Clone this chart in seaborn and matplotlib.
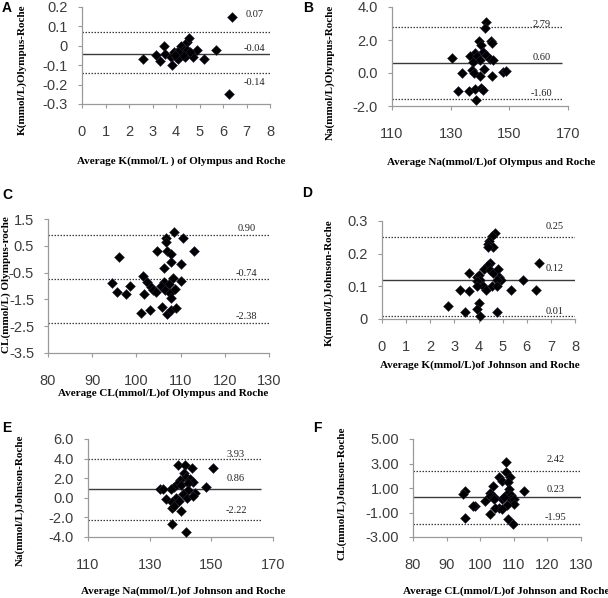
import matplotlib
matplotlib.use('Agg')
import matplotlib.pyplot as plt
import seaborn as sns
import pandas as pd

sns.set_theme(style='white')
plt.rcParams['font.family'] = ['Liberation Sans', 'DejaVu Sans']

# ---------------- data ----------------
a_x = [2.61, 3.13, 3.33, 3.49, 3.53, 3.77, 3.85, 3.92, 4.03, 4.00, 4.13, 4.24, 4.21, 4.38, 4.36,
       4.45, 4.55, 4.45, 4.67, 4.74, 4.88, 5.21, 5.69, 4.07, 6.37, 6.27, 4.30, 4.10, 3.95, 4.60]
a_y = [-0.07, -0.05, -0.08, 0.00, -0.04, -0.06, -0.10, -0.03, -0.04, -0.06, -0.02, -0.04, 0.00, -0.06, -0.02,
       0.02, 0.04, -0.02, -0.04, -0.06, -0.02, -0.07, -0.02, -0.07, 0.15, -0.25, -0.05, -0.03, -0.05, -0.03]
a_lines = [0.07, -0.04, -0.14]

b_x = [142.0, 141.7, 139.6, 143.7, 144.2, 140.3, 140.9, 138.3, 136.6, 139.0, 142.0, 140.0, 137.7, 143.4, 144.5,
       130.3, 133.7, 137.4, 138.0, 141.5, 140.0, 144.0, 148.0, 148.8, 132.4, 136.2, 138.3, 140.3, 141.1, 138.5]
b_y = [3.11, 2.71, 1.95, 1.95, 1.83, 1.69, 1.28, 1.22, 1.02, 1.02, 1.08, 0.77, 0.67, 0.82, 0.77,
       0.88, 0.02, 0.16, 0.00, 0.27, -0.20, -0.20, 0.06, 0.10, -1.10, -1.10, -0.95, -0.89, -1.05, -1.66]
b_lines = [2.79, 0.60, -1.60]

c_x = [108.5, 106.6, 106.6, 110.5, 96.0, 104.7, 107.0, 107.9, 113.0, 107.9, 106.2, 110.0, 108.3, 101.4, 102.5,
       106.2, 110.2, 94.5, 98.5, 95.5, 97.6, 101.7, 103.4, 103.8, 104.5, 105.5, 106.4, 107.3, 107.5, 108.7,
       107.8, 101.0, 103.0, 105.8, 107.0, 107.9, 109.0]
c_y = [1.00, 0.79, 0.66, 0.79, 0.10, 0.29, 0.29, 0.19, 0.29, -0.11, -0.31, -0.19, -0.71, -0.61, -0.84,
       -0.84, -0.81, -0.90, -1.00, -1.21, -1.30, -1.30, -1.05, -1.15, -1.21, -1.00, -1.15, -0.92, -1.25, -1.12,
       -1.44, -2.02, -1.90, -1.80, -2.05, -1.90, -1.81]
c_lines = [0.90, -0.74, -2.38]

d_x = [4.68, 4.55, 4.45, 4.41, 4.61, 4.38, 4.47, 4.41, 6.51, 4.23, 4.47, 4.61, 4.82, 3.62, 4.86,
       3.93, 4.03, 4.92, 4.76, 5.83, 4.06, 3.95, 4.20, 4.58, 4.75, 3.24, 3.62, 3.95, 4.31, 5.33,
       6.38, 2.75, 4.03, 3.93, 3.44, 4.78, 4.06]
d_y = [0.264, 0.254, 0.240, 0.230, 0.220, 0.220, 0.170, 0.165, 0.170, 0.152, 0.150, 0.140, 0.152, 0.140, 0.130,
       0.130, 0.135, 0.120, 0.120, 0.120, 0.120, 0.115, 0.100, 0.100, 0.100, 0.090, 0.085, 0.100, 0.090, 0.090,
       0.090, 0.040, 0.050, 0.030, 0.020, 0.020, 0.010]
d_lines = [0.25, 0.12, 0.01]

e_x = [139.2, 141.4, 143.6, 150.6, 141.1, 141.9, 143.0, 139.8, 144.1, 138.9, 137.8, 140.3, 142.5, 136.8, 133.3,
       134.2, 148.2, 142.5, 140.8, 144.6, 142.1, 144.1, 135.2, 138.7, 137.4, 139.5, 137.1, 137.8, 140.3, 137.4,
       141.9]
e_y = [3.33, 3.33, 3.09, 3.00, 2.55, 2.15, 1.88, 1.81, 1.64, 1.41, 1.14, 1.31, 1.48, 0.88, 0.88,
       0.88, 1.08, 0.81, 0.40, 0.53, -0.03, 0.20, -0.13, -0.03, -0.47, -0.37, -1.04, -0.81, -1.38, -2.72,
       -3.50]
e_lines = [3.93, 0.86, -2.22]

f_x = [107.8, 107.8, 108.8, 105.5, 106.5, 108.2, 103.8, 113.1, 95.6, 94.8, 108.5, 108.0, 103.0, 102.8, 104.0,
       109.2, 106.5, 109.2, 110.2, 101.5, 104.0, 107.2, 98.5, 97.9, 110.2, 108.0, 105.5, 104.5, 106.5, 103.0,
       95.6, 108.2, 109.8]
f_y = [3.14, 2.34, 1.86, 1.86, 1.59, 1.46, 1.19, 0.79, 0.79, 0.53, 0.93, 0.53, 0.61, 0.34, 0.26,
       0.45, 0.13, 0.07, 0.13, -0.09, 0.07, 0.26, -0.46, -0.46, -0.27, -0.35, -0.67, -0.62, -0.73, -1.15,
       -1.42, -1.53, -1.95]
f_lines = [2.42, 0.23, -1.95]

a_yticks = [0.2, 0.1, 0, -0.1, -0.2, -0.3]
a_yticklabels = ['0.2', '0.1', '0', '-0.1', '-0.2', '-0.3']
b_yticks = [4, 2, 0, -2]
b_yticklabels = ['4.0', '2.0', '0.0', '-2.0']
c_yticks = [1.5, 0.5, -0.5, -1.5, -2.5, -3.5]
c_yticklabels = ['1.5', '0.5', '-0.5', '-1.5', '-2.5', '-3.5']
d_yticks = [0.3, 0.2, 0.1, 0]
d_yticklabels = ['0.3', '0.2', '0.1', '0']
e_yticks = [6, 4, 2, 0, -2, -4]
e_yticklabels = ['6.0', '4.0', '2.0', '0.0', '-2.0', '-4.0']
f_yticks = [5, 3, 1, -1, -3]
f_yticklabels = ['5.00', '3.00', '1.00', '-1.00', '-3.00']

k_xticks = [0, 1, 2, 3, 4, 5, 6, 7, 8]
na_xticks = [110, 130, 150, 170]
cl_xticks = [80, 90, 100, 110, 120, 130]

a_ylabel = 'K(mmol/L)Olympus-Roche'
a_xlabel = 'Average K(mmol/L ) of Olympus and Roche'
b_ylabel = 'Na(mmol/L)Olympus-Roche'
b_xlabel = 'Average Na(mmol/L)of Olympus and Roche'
c_ylabel = 'CL(mmol/L) Olympus-roche'
c_xlabel = 'Average CL(mmol/L)of Olympus and Roche'
d_ylabel = 'K(mmol/L)Johnson-Roche'
d_xlabel = 'Average K(mmol/L)of Johnson and Roche'
e_ylabel = 'Na(mmol/L)Johnson-Roche'
e_xlabel = 'Average Na(mmol/L)of Johnson and Roche'
f_ylabel = 'CL(mmol/L)Johnson-Roche'
f_xlabel = 'Average CL(mmol/L)of Johnson and Roche'

# ---------------- layout ----------------
W, H = 608, 598
fig = plt.figure(figsize=(W / 100, H / 100), dpi=100)
fig.patch.set_facecolor('white')

SPINE = '#9a9a9a'
TICKC = '#3c3c3c'
LINEC = '#3a3a3a'
SERIF = ['Liberation Serif', 'DejaVu Serif']
DOT = (0, (1.2, 1.2))

panels = [
    dict(letter='A', box=(82, 7, 270, 104), x=a_x, y=a_y, lines=a_lines, xlim=(0, 8), ylim=(-0.3, 0.2),
         xticks=k_xticks, yticks=a_yticks, yticklabels=a_yticklabels, span=(0, 8), mean_ls='solid',
         lab_x=7.35, lab_dy=[12.4, 3.9, -7.2], letter_pos=(2, 8),
         ylabel=a_ylabel, ylab_pos=(22, 70), xlabel=a_xlabel, xlab_pos=(181, 161)),
    dict(letter='B', box=(392, 7, 568, 106), x=b_x, y=b_y, lines=b_lines, xlim=(110, 170), ylim=(-2, 4),
         xticks=na_xticks, yticks=b_yticks, yticklabels=b_yticklabels, span=(110, 168), mean_ls='solid',
         lab_x=161.1, lab_dy=[2.0, 4.3, 4.3], letter_pos=(303, 8),
         ylabel=b_ylabel, ylab_pos=(330, 72), xlabel=b_xlabel, xlab_pos=(491, 162)),
    dict(letter='C', box=(48, 219, 269, 353), x=c_x, y=c_y, lines=c_lines, xlim=(80, 130), ylim=(-3.5, 1.5),
         xticks=cl_xticks, yticks=c_yticks, yticklabels=c_yticklabels, span=(80, 130), mean_ls=DOT,
         lab_x=124.9, lab_dy=[4.6, 4.3, 4.8], letter_pos=(2, 195),
         ylabel=c_ylabel, ylab_pos=(6, 285), xlabel=c_xlabel, xlab_pos=(163, 393)),
    dict(letter='D', box=(382, 221, 575, 319), x=d_x, y=d_y, lines=d_lines, xlim=(0, 8), ylim=(0, 0.3),
         xticks=k_xticks, yticks=d_yticks, yticklabels=d_yticklabels, span=(0, 8), mean_ls='solid',
         lab_x=7.15, lab_dy=[8.0, 8.0, 2.9], letter_pos=(302, 193),
         ylabel=d_ylabel, ylab_pos=(329, 283), xlabel=d_xlabel, xlab_pos=(480, 365)),
    dict(letter='E', box=(88, 439, 273, 537), x=e_x, y=e_y, lines=e_lines, xlim=(110, 170), ylim=(-4, 6),
         xticks=na_xticks, yticks=e_yticks, yticklabels=e_yticklabels, span=(110, 166), mean_ls='solid',
         lab_x=158.0, lab_dy=[3.6, 8.0, 6.5], letter_pos=(2, 428),
         ylabel=e_ylabel, ylab_pos=(20, 500), xlabel=e_xlabel, xlab_pos=(183, 591)),
    dict(letter='F', box=(413, 439, 581, 537), x=f_x, y=f_y, lines=f_lines, xlim=(80, 130), ylim=(-3, 5),
         xticks=cl_xticks, yticks=f_yticks, yticklabels=f_yticklabels, span=(80, 130), mean_ls='solid',
         lab_x=122.4, lab_dy=[8.2, 5.5, 5.0], letter_pos=(313, 428),
         ylabel=f_ylabel, ylab_pos=(342, 493), xlabel=f_xlabel, xlab_pos=(506, 591)),
]

for p in panels:
    x0, y0, x1, y1 = p['box']
    ax = fig.add_axes([x0 / W, 1 - y1 / H, (x1 - x0) / W, (y1 - y0) / H])
    ax.set_facecolor('white')
    df = pd.DataFrame({'avg': p['x'], 'diff': p['y']})
    sns.scatterplot(data=df, x='avg', y='diff', ax=ax, marker='D', s=25,
                    color='black', edgecolor='#2a2238', linewidth=0.4, zorder=3, clip_on=False)
    # Bland-Altman lines: upper limit, mean, lower limit
    lo, hi = p['span']
    ax.hlines(p['lines'][0], lo, hi, colors=LINEC, linestyles=DOT, linewidth=0.9, zorder=2)
    ax.hlines(p['lines'][1], lo, hi, colors=LINEC, linestyles=p['mean_ls'],
              linewidth=1.0 if p['mean_ls'] == 'solid' else 0.9, zorder=2)
    ax.hlines(p['lines'][2], lo, hi, colors=LINEC, linestyles=DOT, linewidth=0.9, zorder=2)
    for val, dy in zip(p['lines'], p['lab_dy']):
        ax.annotate(f'{val:.2f}', xy=(p['lab_x'], val), xytext=(0, dy), textcoords='offset points',
                    ha='center', va='center', fontsize=7.5, family=SERIF, color='#222222')
    ax.set_xlim(*p['xlim'])
    ax.set_ylim(*p['ylim'])
    ax.set_xticks(p['xticks'])
    ax.set_xticklabels([str(t) for t in p['xticks']])
    ax.set_yticks(p['yticks'])
    ax.set_yticklabels(p['yticklabels'])
    ax.set_xlabel('')
    ax.set_ylabel('')
    for s in ['top', 'right']:
        ax.spines[s].set_visible(False)
    for s in ['left', 'bottom']:
        ax.spines[s].set_color(SPINE)
        ax.spines[s].set_linewidth(0.9)
    ax.tick_params(axis='x', direction='out', length=3, width=0.8, color=SPINE,
                   labelsize=10.5, labelcolor=TICKC, pad=12, bottom=True)
    ax.tick_params(axis='y', direction='out', length=3, width=0.8, color=SPINE,
                   labelsize=10.5, labelcolor=TICKC, pad=7, left=True)
    ax.grid(False)

    fig.text(p['letter_pos'][0] / W, 1 - p['letter_pos'][1] / H, p['letter'],
             ha='left', va='center', fontsize=10, fontweight='bold', color='black')
    fig.text(p['ylab_pos'][0] / W, 1 - p['ylab_pos'][1] / H, p['ylabel'], rotation=90,
             ha='center', va='center', fontsize=8, fontweight='bold', family=SERIF, color='black')
    fig.text(p['xlab_pos'][0] / W, 1 - p['xlab_pos'][1] / H, p['xlabel'],
             ha='center', va='center', fontsize=8, fontweight='bold', family=SERIF, color='black')

fig.savefig('out.png', dpi=100, facecolor='white')
